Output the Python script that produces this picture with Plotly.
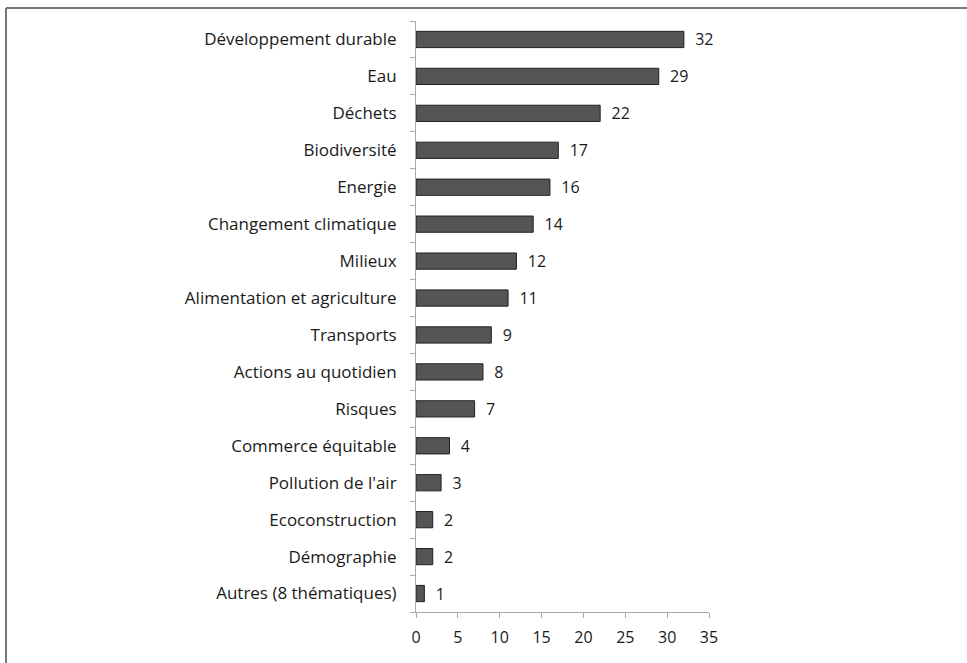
import plotly.graph_objects as go

categories = ["Développement durable", "Eau", "Déchets", "Biodiversité", "Energie",
              "Changement climatique", "Milieux", "Alimentation et agriculture",
              "Transports", "Actions au quotidien", "Risques", "Commerce équitable",
              "Pollution de l'air", "Ecoconstruction", "Démographie", "Autres (8 thématiques)"]
values = [32, 29, 22, 17, 16, 14, 12, 11, 9, 8, 7, 4, 3, 2, 2, 1]
x_ticks = [0, 5, 10, 15, 20, 25, 30, 35]

FONT = "Open Sans, Liberation Sans, sans-serif"
L, T, PW, PH = 416, 21, 293, 591

fig = go.Figure(go.Bar(
    y=categories, x=values, orientation="h",
    marker=dict(color="#555555", line=dict(color="#222222", width=1)),
    text=values, texttemplate="\u00a0\u00a0%{x}", textposition="outside",
    constraintext="none",
    textfont=dict(family=FONT, size=16, color="#1a1a1a"),
    cliponaxis=False, hoverinfo="skip",
))

fig.update_layout(
    width=967, height=663,
    margin=dict(l=L, r=967 - L - PW, t=T, b=663 - T - PH),
    paper_bgcolor="white", plot_bgcolor="white",
    bargap=0.56, showlegend=False,
    font=dict(family=FONT, size=16, color="#1a1a1a"),
    shapes=[
        dict(type="line", xref="paper", yref="paper", x0=(6 - L) / PW, x1=(1000 - L) / PW,
             y0=1 + (T - 8) / PH, y1=1 + (T - 8) / PH, line=dict(color="#777777", width=2)),
        dict(type="line", xref="paper", yref="paper", x0=(6 - L) / PW, x1=(6 - L) / PW,
             y0=1 + (T - 8) / PH, y1=-(663 - T - PH + 10) / PH, line=dict(color="#777777", width=2)),
    ],
)
fig.update_xaxes(range=[0, 35], tickvals=x_ticks, showgrid=False, zeroline=False,
                 showline=True, linecolor="#a8a8a8", linewidth=1,
                 ticks="outside", ticklen=5, tickcolor="#a8a8a8", ticklabelstandoff=6,
                 tickfont=dict(family=FONT, size=16, color="#1a1a1a"))
fig.update_yaxes(categoryorder="array", categoryarray=categories[::-1],
                 showgrid=False, zeroline=False, showline=True, linecolor="#a8a8a8",
                 linewidth=1, ticks="outside", ticklen=5, tickcolor="#a8a8a8",
                 tickson="boundaries", ticklabelstandoff=15,
                 tickfont=dict(family=FONT, size=17, color="#1a1a1a"))

fig.write_html("out.html", config={"displayModeBar": False},
               post_script="document.body.style.margin='0px';")
